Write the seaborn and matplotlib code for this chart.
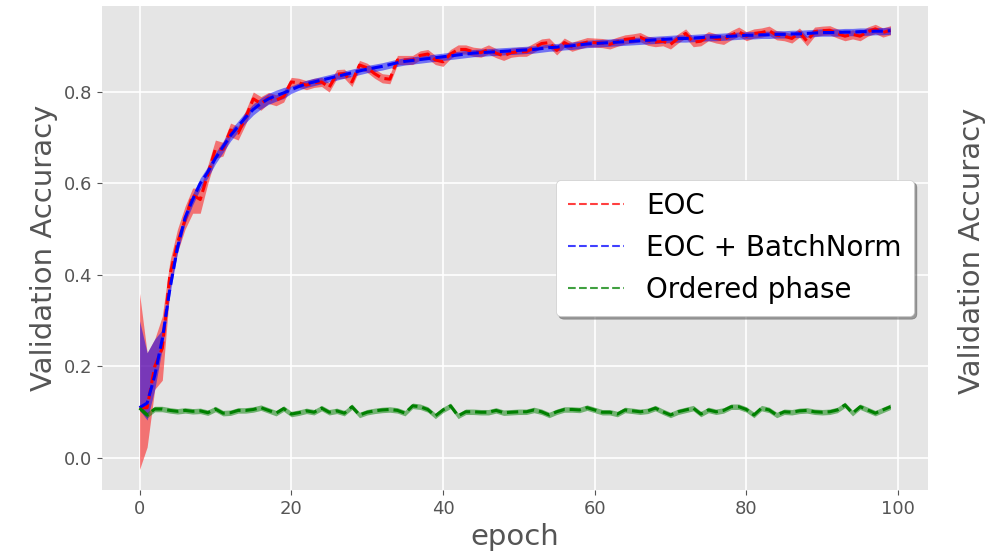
import numpy as np
import pandas as pd
import matplotlib
matplotlib.use("Agg")
import matplotlib.pyplot as plt
from matplotlib.lines import Line2D
import seaborn as sns

epochs = list(range(100))

eoc_mean = [
    0.110, 0.110, 0.200, 0.240, 0.400, 0.470, 0.520, 0.575, 0.565, 0.620,
    0.675, 0.675, 0.717, 0.710, 0.745, 0.785, 0.775, 0.787, 0.782, 0.790,
    0.822, 0.820, 0.815, 0.820, 0.822, 0.810, 0.839, 0.840, 0.822, 0.859,
    0.853, 0.840, 0.830, 0.828, 0.870, 0.870, 0.870, 0.880, 0.883, 0.870,
    0.866, 0.883, 0.893, 0.893, 0.888, 0.886, 0.893, 0.885, 0.879, 0.886,
    0.888, 0.888, 0.897, 0.906, 0.908, 0.891, 0.908, 0.899, 0.904, 0.909,
    0.908, 0.907, 0.904, 0.910, 0.915, 0.917, 0.920, 0.912, 0.909, 0.911,
    0.904, 0.917, 0.928, 0.909, 0.911, 0.922, 0.917, 0.914, 0.924, 0.932,
    0.922, 0.928, 0.930, 0.934, 0.924, 0.922, 0.917, 0.930, 0.911, 0.932,
    0.934, 0.935, 0.928, 0.922, 0.926, 0.922, 0.932, 0.938, 0.930, 0.935,
]
eoc_err_lo = [0.135, 0.086, 0.050, 0.070, 0.030, 0.020, 0.020, 0.040, 0.030, 0.020,
              0.020, 0.015, 0.015, 0.015, 0.015, 0.015, 0.015, 0.012, 0.012, 0.012] + [0.010] * 80
eoc_err_hi = [0.250, 0.120, 0.060, 0.070, 0.030, 0.030, 0.030, 0.015, 0.025, 0.020,
              0.020, 0.015, 0.015, 0.015, 0.015, 0.015, 0.015, 0.012, 0.012, 0.012] + [0.010] * 80

bn_mean = [
    0.110, 0.120, 0.180, 0.260, 0.370, 0.460, 0.525, 0.565, 0.600, 0.625,
    0.655, 0.680, 0.705, 0.725, 0.745, 0.762, 0.775, 0.785, 0.792, 0.798,
    0.805, 0.812, 0.818, 0.822, 0.826, 0.830, 0.834, 0.838, 0.842, 0.846,
    0.850, 0.853, 0.856, 0.860, 0.864, 0.867, 0.869, 0.871, 0.873, 0.875,
    0.877, 0.879, 0.881, 0.883, 0.885, 0.886, 0.887, 0.888, 0.889, 0.890,
    0.891, 0.892, 0.893, 0.895, 0.897, 0.898, 0.900, 0.901, 0.903, 0.905,
    0.906, 0.907, 0.908, 0.909, 0.910, 0.911, 0.912, 0.913, 0.914, 0.915,
    0.916, 0.917, 0.917, 0.918, 0.919, 0.920, 0.920, 0.921, 0.922, 0.923,
    0.924, 0.924, 0.925, 0.925, 0.926, 0.926, 0.927, 0.927, 0.928, 0.929,
    0.930, 0.930, 0.930, 0.931, 0.931, 0.932, 0.932, 0.933, 0.933, 0.934,
]
bn_err_lo = [0.005, 0.037, 0.030, 0.020, 0.012] + [0.012] * 15 + [0.008] * 80
bn_err_hi = [0.190, 0.110, 0.080, 0.020, 0.012] + [0.012] * 15 + [0.008] * 80

ord_mean = [
    0.109, 0.094, 0.107, 0.107, 0.104, 0.102, 0.104, 0.102, 0.103, 0.099,
    0.107, 0.098, 0.099, 0.104, 0.104, 0.106, 0.110, 0.104, 0.098, 0.108,
    0.096, 0.099, 0.103, 0.100, 0.109, 0.100, 0.103, 0.098, 0.112, 0.094,
    0.100, 0.103, 0.105, 0.106, 0.104, 0.098, 0.114, 0.112, 0.106, 0.092,
    0.105, 0.114, 0.092, 0.101, 0.101, 0.100, 0.100, 0.104, 0.099, 0.100,
    0.101, 0.101, 0.105, 0.101, 0.094, 0.101, 0.106, 0.106, 0.105, 0.110,
    0.105, 0.100, 0.100, 0.096, 0.105, 0.103, 0.101, 0.103, 0.109, 0.101,
    0.094, 0.101, 0.105, 0.109, 0.096, 0.105, 0.101, 0.104, 0.112, 0.112,
    0.106, 0.094, 0.109, 0.105, 0.094, 0.101, 0.100, 0.103, 0.104, 0.101,
    0.100, 0.101, 0.105, 0.116, 0.098, 0.112, 0.105, 0.098, 0.105, 0.112,
]
ord_err = [0.006] * 100

series_names = ["EOC", "EOC + BatchNorm", "Ordered phase"]
series_colors = ["red", "blue", "green"]
x_ticks = [0, 20, 40, 60, 80, 100]
y_ticks = [0.0, 0.2, 0.4, 0.6, 0.8]

plt.style.use("ggplot")
sns.set_style({"axes.facecolor": "#E5E5E5", "grid.color": "white"})
plt.rcParams["font.family"] = ["DejaVu Sans"]

fig = plt.figure(figsize=(9.88, 5.54), dpi=100)
W, H = 988, 554
ax = fig.add_axes([102 / W, (H - 490) / H, 826 / W, 484 / H])
ax.set_facecolor("#E5E5E5")

means = [eoc_mean, bn_mean, ord_mean]
los = [eoc_err_lo, bn_err_lo, ord_err]
his = [eoc_err_hi, bn_err_hi, ord_err]

df = pd.DataFrame({
    "epoch": np.tile(epochs, 3),
    "acc": np.concatenate([np.array(m) for m in means]),
    "series": np.repeat(series_names, len(epochs)),
})

for name, color, m, lo, hi in zip(series_names, series_colors, means, los, his):
    m = np.array(m)
    ax.fill_between(epochs, m - np.array(lo), m + np.array(hi),
                    color=color, alpha=0.5, linewidth=0)

for name, color in zip(series_names, series_colors):
    sub = df[df["series"] == name]
    sns.lineplot(data=sub, x="epoch", y="acc", ax=ax, color=color,
                 linestyle="--", linewidth=2.2, legend=False)

ax.set_xlim(-4.95, 103.95)
ax.set_ylim(-0.07, 0.988)
ax.set_xticks(x_ticks)
ax.set_yticks(y_ticks)
ax.set_xticklabels([str(t) for t in x_ticks])
ax.set_yticklabels([f"{t:.1f}" for t in y_ticks])
ax.tick_params(labelsize=13, colors="#555555", length=3.5)
ax.grid(True, color="white", linewidth=1.2)
for s in ax.spines.values():
    s.set_visible(False)

ax.set_xlabel("epoch", fontsize=21, color="#555555")
ax.set_ylabel("Validation Accuracy", fontsize=21, color="#555555")

handles = [Line2D([0], [0], color=c, linestyle="--", linewidth=1.5, alpha=0.75)
           for c in series_colors]
leg = ax.legend(handles, series_names, loc="center right", fontsize=20,
                frameon=True, shadow=True, facecolor="white", framealpha=1,
                edgecolor="#cccccc", borderpad=0.45)
for t in leg.get_texts():
    t.set_color("black")

fig.text(958 / W, 1 - 251 / H, "Validation Accuracy", rotation=90, fontsize=21,
         color="#555555", ha="left", va="center")

fig.savefig("out.png", dpi=100)
